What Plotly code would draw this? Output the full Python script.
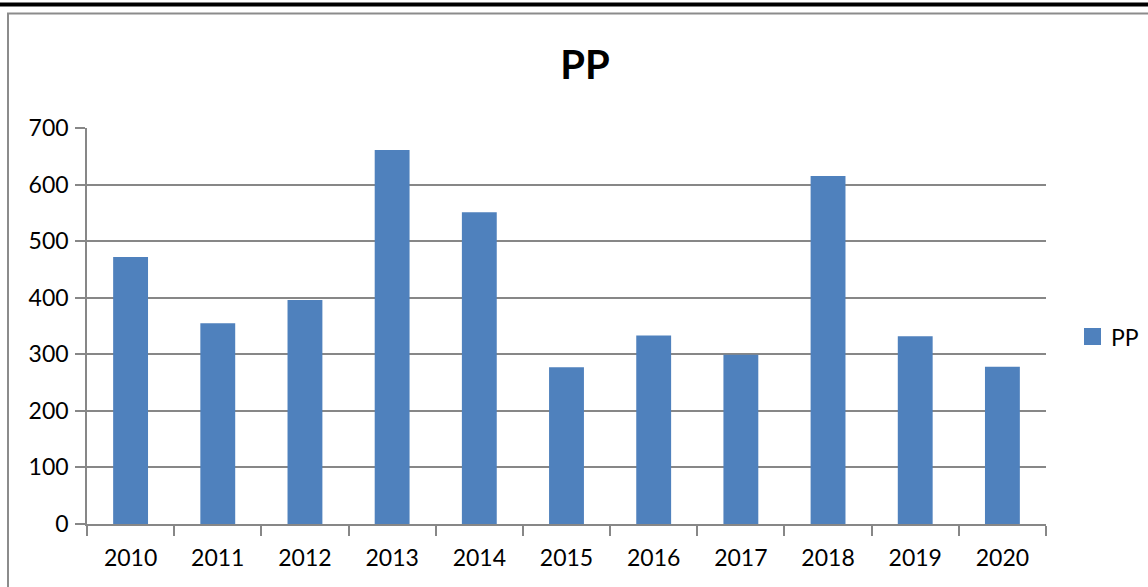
import plotly.graph_objects as go

years = ["2010", "2011", "2012", "2013", "2014", "2015", "2016", "2017", "2018", "2019", "2020"]
pp_values = [472, 355, 396, 661, 551, 277, 333, 299, 615, 332, 278]
y_ticks = [0, 100, 200, 300, 400, 500, 600, 700]
series_name = "PP"

L, R, T, B = 87, 1046, 128, 524
W, H = 1148, 587
pw, ph = R - L, B - T

def px(x):
    return (x - L) / pw

def py(y):
    return (B - y) / ph

bar_color = "#4F81BD"
axis_gray = "#878787"
fig = go.Figure()
fig.add_trace(go.Bar(x=years, y=pp_values, name=series_name, marker=dict(color=bar_color, line=dict(width=0)),
                     showlegend=False))

font = "Lato, Carlito, 'Open Sans', sans-serif"
fig.update_layout(
    width=W, height=H,
    margin=dict(l=L, r=W - R, t=T, b=H - B, pad=0),
    paper_bgcolor="white", plot_bgcolor="white",
    bargap=0.6,
    showlegend=False,
    title=dict(text="<b>" + series_name + "</b>", x=px(585), xanchor="center", y=1 - 65 / H, yanchor="middle",
               xref="paper", font=dict(family=font, size=40, color="black")),
    font=dict(family=font, size=23, color="black"),
    xaxis=dict(type="category", tickson="boundaries", ticks="outside", ticklen=10, tickcolor=axis_gray,
               tickwidth=1.5, showline=True, linecolor=axis_gray, linewidth=1.5, showgrid=False,
               ticklabelstandoff=13, tickfont=dict(size=23), fixedrange=True),
    yaxis=dict(range=[0, 700], tickvals=y_ticks, ticks="outside", ticklen=10, tickcolor=axis_gray,
               tickwidth=1.5, showline=True, linecolor=axis_gray, linewidth=1.5, showgrid=True,
               gridcolor=axis_gray, gridwidth=1.5, zeroline=False, ticklabelstandoff=2,
               tickfont=dict(size=23), fixedrange=True),
    shapes=[
        dict(type="line", xref="paper", yref="paper", x0=px(-10), x1=px(W + 10), y0=py(4.5), y1=py(4.5),
             line=dict(color="black", width=4)),
        dict(type="rect", xref="paper", yref="paper", x0=px(8), x1=px(W + 20), y0=py(13.5), y1=py(H + 20),
             line=dict(color="#8c8c8c", width=2), fillcolor="rgba(0,0,0,0)", layer="below"),
        dict(type="rect", xref="paper", yref="paper", x0=px(1084), x1=px(1101), y0=py(345), y1=py(328),
             line=dict(width=0), fillcolor=bar_color),
    ],
    annotations=[
        dict(text=series_name, xref="paper", yref="paper", x=px(1109), y=py(337), xanchor="left",
             yanchor="middle", showarrow=False, font=dict(family=font, size=23, color="black")),
    ],
)

fig.write_html("out.html", config={"displayModeBar": False},
               post_script="document.body.style.margin='0';document.body.style.overflow='hidden';")
